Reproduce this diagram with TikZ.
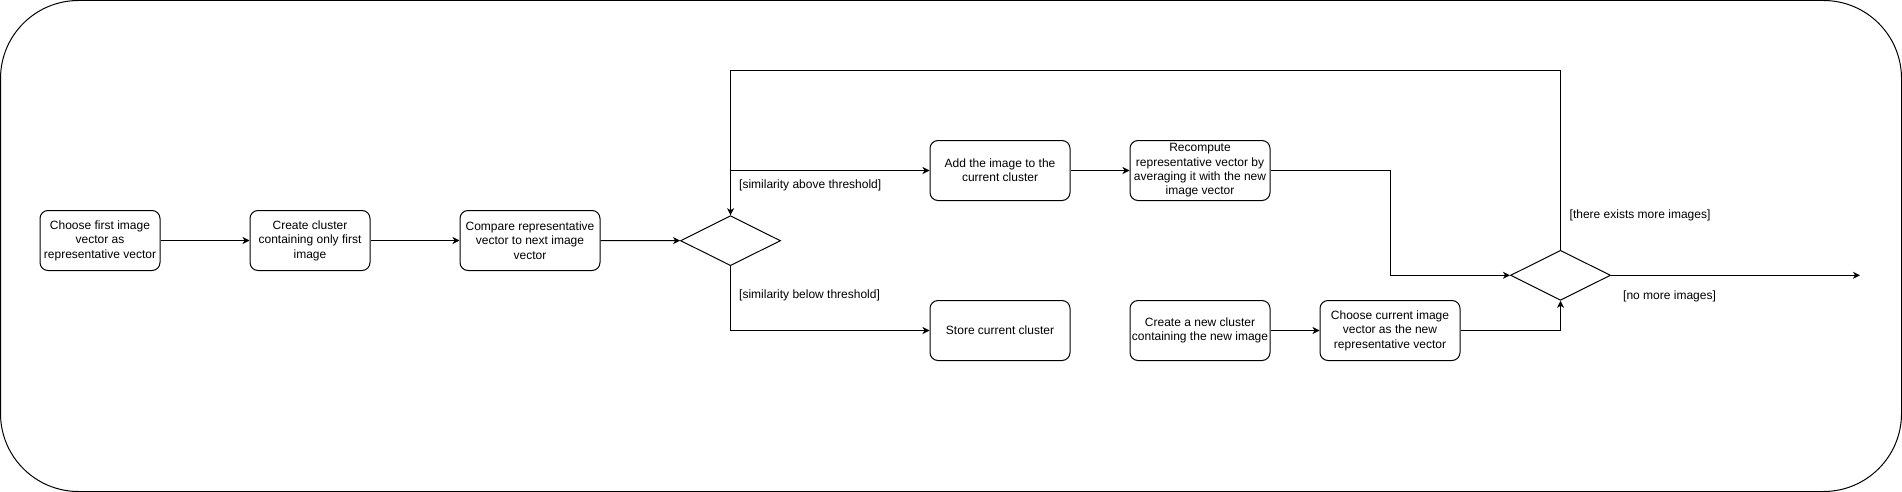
\documentclass[tikz,border=0pt]{standalone}
\usepackage{fontspec}
\setmainfont{Liberation Sans}
\usetikzlibrary{arrows.meta,shapes.geometric}
\begin{document}
\begin{tikzpicture}[x=1pt,y=-1pt,
  every node/.style={font=\fontsize{12}{14.4}\selectfont},
  stepbox/.style={draw,line width=1pt,rounded corners=8pt,minimum width=#1,minimum height=60pt,inner sep=0pt,align=center},
  stepbox/.default=140pt,
  decision/.style={draw,line width=1pt,diamond,minimum width=100pt,minimum height=50pt,inner sep=0pt},
  lbl/.style={anchor=west,inner sep=0pt},
  arr/.style={line width=1pt,-{Stealth[length=7pt,width=7pt,inset=2pt]}},
  ln/.style={line width=1pt}]
\useasboundingbox (0,0) rectangle (1902,492);
\draw[line width=1pt,rounded corners=78pt] (0.5,0.5) rectangle (1901.5,491.5);

\node[stepbox=120pt] (b1) at (100,240.5) {Choose first image\\vector as\\representative vector};
\node[stepbox=120pt] (b2) at (310,240.5) {Create cluster\\containing only first\\image};
\node[stepbox] (b3) at (530,240.5) {Compare representative\\vector to next image\\vector};
\node[decision] (d1) at (730.5,240.7) {};
\node[stepbox] (add) at (1000,170.5) {Add the image to the\\current cluster};
\node[stepbox] (store) at (1000,330.5) {Store current cluster};
\node[stepbox] (recomp) at (1200,170.5) {Recompute\\representative vector by\\averaging it with the new\\image vector};
\node[stepbox] (create) at (1200,330.5) {Create a new cluster\\containing the new image};
\node[stepbox] (choose) at (1390,330.5) {Choose current image\\vector as the new\\representative vector};
\node[decision] (d2) at (1560.5,275.3) {};
\coordinate (loopy) at (0,70.5);
\coordinate (bend) at (1390.5,0);
\coordinate (endpt) at (1860,275.3);

\draw[arr] (b1) -- (b2);
\draw[arr] (b2) -- (b3);
\draw[arr] (b3) -- (d1);
\draw[arr] (d1.north) |- (add.west);
\draw[arr] (d1.south) |- (store.west);
\draw[arr] (add) -- (recomp);
\draw[arr] (recomp.east) -| (bend |- d2.west) -- (d2.west);
\draw[arr] (create) -- (choose);
\draw[arr] (choose.east) -| (d2.south);
\draw[arr] (d2.north) -- (d2.north |- loopy) -| (d1.north);
\draw[arr] (d2.east) -- (endpt);

\node[lbl] (l1) at (739,185) {[similarity above threshold]};
\node[lbl] (l2) at (739,295) {[similarity below threshold]};
\node[lbl] (l3) at (1569.5,215.5) {[there exists more images]};
\node[lbl] (l4) at (1623,296) {[no more images]};
\end{tikzpicture}
\end{document}
